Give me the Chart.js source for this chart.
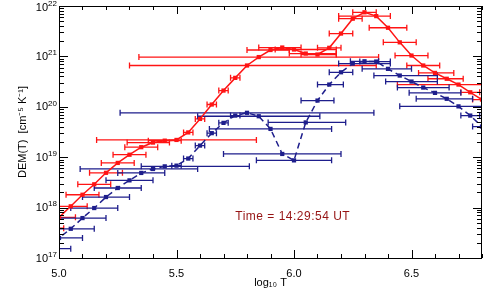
<!DOCTYPE html>
<html>
<head>
<meta charset="utf-8">
<script src="https://cdn.jsdelivr.net/npm/chart.js@4/dist/chart.umd.min.js"></script>
<style>
  html, body { margin: 0; padding: 0; background: #fff; }
  #wrap { width: 491px; height: 295px; }
</style>
</head>
<body>
<div id="wrap"><canvas id="demChart"></canvas></div>
<script>
// log10 T grid of the inversion
const logT = [4.95, 5.00, 5.05, 5.10, 5.15, 5.20, 5.25, 5.30, 5.35, 5.40, 5.45, 5.50, 5.55,
              5.60, 5.65, 5.70, 5.75, 5.80, 5.85, 5.90, 5.95, 6.00, 6.05, 6.10, 6.15, 6.20,
              6.25, 6.30, 6.35, 6.40, 6.45, 6.50, 6.55, 6.60, 6.65, 6.70, 6.75, 6.80];

// red solution
const redDem = [3.9e17, 6.4e17, 1.06e18, 1.8e18, 2.9e18, 4.9e18, 7.7e18, 1.12e19, 1.58e19, 1.95e19,
                2.13e19, 2.2e19, 3.1e19, 5.75e19, 1.11e20, 2.1e20, 3.75e20, 6.6e20, 9.7e20, 1.34e21,
                1.5e21, 1.37e21, 1.14e21, 1.09e21, 1.48e21, 2.84e21, 5.6e21, 7.5e21, 6.3e21, 3.7e21,
                1.9e21, 1.04e21, 6.6e20, 4.7e20, 3.6e20, 2.76e20, 1.94e20, 1.39e20];
const redTLo = [4.88, 4.93, 4.98, 5.03, 5.08, 5.13, 5.18, 5.23, 5.28, 5.29, 5.38, 5.16, 5.53,
                5.58, 5.63, 5.68, 5.73, 5.30, 5.34, 5.80, 5.85, 5.92, 5.98, 6.03, 6.10, 6.15,
                6.19, 6.25, 6.19, 6.32, 6.38, 6.43, 6.48, 6.53, 6.57, 6.44, 6.71, 6.76];
const redTHi = [5.02, 5.07, 5.12, 5.17, 5.22, 5.27, 5.32, 5.37, 5.42, 5.47, 5.52, 5.84, 5.57,
                5.62, 5.67, 5.72, 5.77, 6.35, 6.36, 5.98, 6.03, 6.18, 6.18, 6.18, 6.20, 6.25,
                6.29, 6.35, 6.41, 6.48, 6.52, 6.57, 6.62, 6.68, 6.72, 6.86, 6.79, 6.84];

// blue solution
const blueDem = [1.53e17, 2.5e17, 3.8e17, 6.2e17, 9.8e17, 1.62e18, 2.45e18, 3.47e18, 4.87e18, 5.84e18,
                 6.58e18, 6.8e18, 9.4e18, 1.7e19, 3.0e19, 4.8e19, 6.7e19, 7.6e19, 6.5e19, 3.64e19,
                 1.16e19, 8.65e18, 4.9e19, 1.33e20, 2.76e20, 4.84e20, 7.2e20, 8.0e20, 7.9e20, 5.66e20,
                 4.17e20, 3.17e20, 2.41e20, 1.89e20, 1.44e20, 1.02e20, 6.7e19, 4.05e19];
const blueTLo = [4.85, 4.90, 4.95, 5.00, 5.05, 5.10, 5.15, 5.20, 5.25, 5.09, 5.35, 5.48, 5.53,
                 5.58, 5.63, 5.68, 5.73, 5.26, 5.59, 5.64, 5.70, 5.84, 5.89, 6.03, 6.10, 6.15,
                 6.19, 6.24, 6.28, 6.29, 6.34, 6.39, 6.44, 6.49, 6.52, 6.45, 6.71, 6.76];
const blueTHi = [5.05, 5.10, 5.15, 5.20, 5.25, 5.30, 5.35, 5.40, 5.45, 5.59, 5.81, 5.52, 5.57,
                 5.62, 5.67, 5.72, 5.77, 6.34, 6.11, 6.16, 6.20, 6.16, 6.22, 6.17, 6.21, 6.25,
                 6.41, 6.36, 6.41, 6.50, 6.61, 6.61, 6.66, 6.71, 6.76, 6.80, 6.79, 6.84];

const xTicks = [5.0, 5.5, 6.0, 6.5];
const yDecades = [17, 18, 19, 20, 21, 22];
const timeLabel = 'Time = 14:29:54 UT';

const RED = 'rgb(255,20,20)';
const BLUE = 'rgb(30,30,140)';
const FONT = "'Liberation Sans', Arial, sans-serif";

const toPoints = (dem) => logT.map((t, i) => ({ x: t, y: dem[i] }));

// horizontal error bars with end caps
const errorBars = {
    id: 'errorBars',
    beforeDatasetsDraw(chart) {
        const { ctx, chartArea: a, scales: { x, y } } = chart;
        ctx.save();
        ctx.beginPath();
        ctx.rect(a.left, a.top, a.right - a.left, a.bottom - a.top);
        ctx.clip();
        [[redDem, redTLo, redTHi, RED], [blueDem, blueTLo, blueTHi, BLUE]].forEach(([dem, lo, hi, col]) => {
            ctx.strokeStyle = col;
            ctx.lineWidth = 1.3;
            dem.forEach((v, i) => {
                const py = y.getPixelForValue(v);
                const x0 = x.getPixelForValue(lo[i]);
                const x1 = x.getPixelForValue(hi[i]);
                ctx.beginPath();
                ctx.moveTo(x0, py); ctx.lineTo(x1, py);
                ctx.moveTo(x0, py - 3); ctx.lineTo(x0, py + 3);
                ctx.moveTo(x1, py - 3); ctx.lineTo(x1, py + 3);
                ctx.stroke();
            });
        });
        ctx.restore();
    }
};

// IDL style box: inward ticks on all four sides, 10^n labels, time stamp
const idlAxes = {
    id: 'idlAxes',
    afterDraw(chart) {
        const { ctx, chartArea: a, scales: { x, y } } = chart;
        ctx.save();
        ctx.strokeStyle = '#000';
        ctx.lineWidth = 1;
        ctx.strokeRect(a.left + 0.5, a.top + 0.5, a.right - a.left - 1, a.bottom - a.top);

        ctx.beginPath();
        for (let k = 0; k <= 18; k++) {
            const t = 5.0 + k * 0.1;
            const major = xTicks.some(v => Math.abs(v - t) < 1e-6);
            const len = major ? 8 : 4;
            const px = Math.round(x.getPixelForValue(t)) + 0.5;
            ctx.moveTo(px, a.bottom); ctx.lineTo(px, a.bottom - len);
            ctx.moveTo(px, a.top); ctx.lineTo(px, a.top + len);
        }
        yDecades.forEach(d => {
            for (let m = 1; m <= 9; m++) {
                if (d === 22 && m > 1) break;
                const py = Math.round(y.getPixelForValue(m * Math.pow(10, d))) + 0.5;
                const len = m === 1 ? 9 : 5;
                ctx.moveTo(a.left, py); ctx.lineTo(a.left + len, py);
                ctx.moveTo(a.right, py); ctx.lineTo(a.right - len, py);
            }
        });
        ctx.stroke();

        // y tick labels 10^n
        ctx.fillStyle = '#000';
        ctx.textBaseline = 'middle';
        yDecades.forEach(d => {
            const py = y.getPixelForValue(Math.pow(10, d)) + (d === 22 ? 1 : 0);
            ctx.font = '8px ' + FONT;
            ctx.textAlign = 'right';
            const ex = String(d);
            ctx.fillText(ex, a.left - 2, py - 3.5);
            const exW = ctx.measureText(ex).width;
            ctx.font = '11px ' + FONT;
            ctx.fillText('10', a.left - 2 - exW, py + 0.5);
        });

        // time stamp
        ctx.font = '12px ' + FONT;
        ctx.letterSpacing = '0.5px';
        ctx.fillStyle = 'rgb(150,20,20)';
        ctx.textAlign = 'left';
        ctx.fillText(timeLabel, x.getPixelForValue(5.75), y.getPixelForValue(6.7e17));
        ctx.restore();
    }
};

new Chart(document.getElementById('demChart'), {
    type: 'scatter',
    data: {
        datasets: [{
            label: 'red',
            data: toPoints(redDem),
            showLine: true,
            borderColor: RED,
            backgroundColor: RED,
            borderWidth: 1.5,
            pointStyle: 'rect',
            pointRadius: 3,
            pointBorderWidth: 0
        }, {
            label: 'blue',
            data: toPoints(blueDem),
            showLine: true,
            borderColor: BLUE,
            backgroundColor: BLUE,
            borderWidth: 1.5,
            borderDash: [6, 4],
            pointStyle: 'rect',
            pointRadius: 3,
            pointBorderWidth: 0
        }]
    },
    options: {
        responsive: true,
        maintainAspectRatio: false,
        animation: false,
        layout: { padding: { top: 6, right: 9 } },
        plugins: { legend: { display: false }, tooltip: { enabled: false } },
        scales: {
            x: {
                type: 'linear',
                min: 5.0,
                max: 6.8,
                grid: { display: false },
                border: { display: false },
                afterBuildTicks: (s) => { s.ticks = xTicks.map(v => ({ value: v })); },
                afterFit: (s) => { s.height = 37; },
                ticks: {
                    padding: 1,
                    color: '#000',
                    font: { family: FONT, size: 11 },
                    callback: (v) => v.toFixed(1)
                },
                title: {
                    display: true,
                    text: 'log\u2081\u2080 T',
                    color: '#000',
                    font: { family: FONT, size: 11 },
                    padding: { top: 0, bottom: 5 }
                }
            },
            y: {
                type: 'logarithmic',
                min: 1e17,
                max: 1e22,
                grid: { display: false },
                border: { display: false },
                ticks: { display: false },
                afterFit: (s) => { s.width = 59; },
                title: {
                    display: true,
                    text: 'DEM(T)  [cm\u207B\u2075 K\u207B\u00B9]',
                    color: '#000',
                    font: { family: FONT, size: 11 },
                    padding: { top: 16, bottom: 0 }
                }
            }
        }
    },
    plugins: [errorBars, idlAxes]
});
</script>
</body>
</html>
